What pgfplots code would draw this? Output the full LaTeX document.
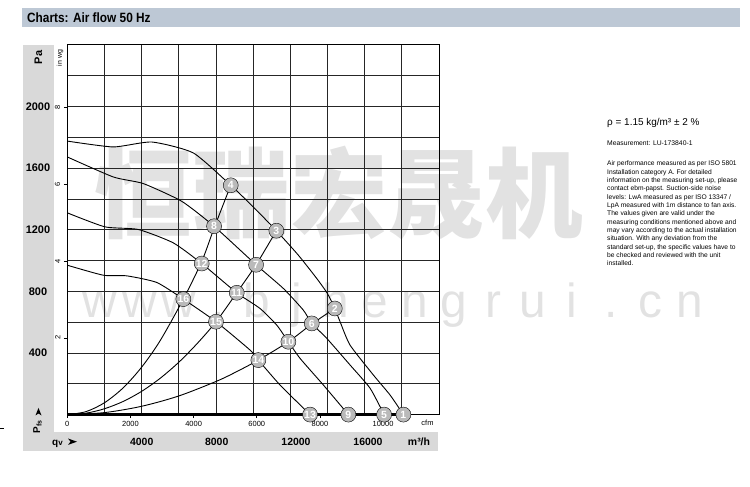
\documentclass[border=0pt]{standalone}
\usepackage{pgfplots}
\pgfplotsset{compat=1.18}
\usepackage{fontspec}
\setmainfont{Liberation Sans}
\newfontfamily\cjk{Noto Sans CJK SC}
\newfontfamily\titlefont[FakeStretch=0.88]{Liberation Sans}
\definecolor{titlebar}{HTML}{BDC8D5}
\definecolor{band}{HTML}{D9D9D9}
\definecolor{circ}{HTML}{BABABA}
\definecolor{wm}{HTML}{E2E2E2}
\begin{document}
\begin{tikzpicture}[x=1bp,y=1bp]
\path[use as bounding box] (0,0) rectangle (750,487);
% title bar
\fill[titlebar] (22,460) rectangle (740,479);
\node[anchor=west, inner sep=0, font=\titlefont\bfseries\fontsize{13.5}{14}\selectfont] at (27,469.5) {Charts: Air flow 50 Hz};
% grey bands
\fill[band] (23,36) rectangle (54,442);
\fill[band] (23,36) rectangle (438,55);
\draw[line width=0.7bp] (0,59) -- (4,59);
% watermark
\node[text=wm, inner sep=0, font=\cjk\bfseries\fontsize{98}{98}\selectfont] at (339,294) {恒瑞宏晟机};
\foreach \c [count=\i from 0] in {w,w,w,.,b,j,h,e,n,g,r,u,i,.,c,n}
  {\node[text=wm, inner sep=0, anchor=base, font=\fontsize{48}{48}\selectfont] at (100+39.3*\i,169) {\c};}
% right-hand text
\node[anchor=base west, inner sep=0, font=\fontsize{10}{12}\selectfont] at (607,361.8) {ρ = 1.15 kg/m³ ± 2 \%};
\node[anchor=base west, inner sep=0, font=\fontsize{6.8}{8}\selectfont] at (607,341.2) {Measurement: LU-173840-1};
\foreach \t [count=\i from 0] in {Air performance measured as per ISO 5801,
 Installation category A. For detailed,
 {information on the measuring set-up, please},
 contact ebm-papst. Suction-side noise,
 levels: LwA measured as per ISO 13347 /,
 LpA measured with 1m distance to fan axis.,
 The values given are valid under the,
 measuring conditions mentioned above and,
 may vary according to the actual installation,
 situation. With any deviation from the,
 {standard set-up, the specific values have to},
 be checked and reviewed with the unit,
 installed.}
 {\node[anchor=base west, inner sep=0, font=\fontsize{6.7}{8}\selectfont] at (607,321.2-8.33*\i) {\t};}
% axis-side labels
\node[rotate=90, inner sep=0, font=\bfseries\fontsize{11}{12}\selectfont] at (38.3,429.5) {Pa};
\node[rotate=90, inner sep=0, font=\fontsize{7}{8}\selectfont] at (60,429) {in wg};
\node[rotate=90, inner sep=0, font=\bfseries\fontsize{10}{12}\selectfont] at (37.5,60.5) {P\textsubscript{fs}};
\fill (38.5,79) -- (41.5,71.5) -- (38.5,73.5) -- (35.5,71.5) -- cycle;
\node[anchor=base west, inner sep=0, font=\bfseries\fontsize{10}{12}\selectfont] at (52,41.5) {q{\fontsize{8}{8}\selectfont v}};
\fill (77,45.3) -- (68,48.5) -- (70.5,45.3) -- (68,42.1) -- cycle;
\foreach \p/\l in {141.7/4000,216.7/8000,296/12000,368/16000}
  {\node[inner sep=0, font=\bfseries\fontsize{10.5}{12}\selectfont] at (\p,45.3) {\l};}
\node[inner sep=0, font=\bfseries\fontsize{10.5}{12}\selectfont] at (419,45.3) {m³/h};
\node[inner sep=0, font=\fontsize{7.5}{8}\selectfont] at (427.5,64) {cfm};
\begin{axis}[
  at={(67.3bp,72.4bp)}, anchor=origin,
  scale only axis, width=371.7bp, height=369.6bp,
  xmin=0, xmax=20000, ymin=0, ymax=2400,
  axis line style={line width=1bp, black},
  xtick={0,3398,6796,10194,13592,16990},
  xticklabels={0,2000,4000,6000,8000,10000},
  scaled x ticks=false, scaled y ticks=false,
  ytick={498.2,996.4,1494.5,1992.7},
  yticklabels={2,4,6,8},
  xtick pos=bottom, ytick pos=left,
  tick align=outside, major tick length=3.5bp, minor tick length=0pt,
  minor xtick={2000,4000,...,18000},
  minor ytick={200,400,...,2200},
  grid=minor, minor grid style={black!85, line width=0.9bp},
  tick style={black, line width=0.7bp},
  tick label style={font=\fontsize{7.5}{8}\selectfont},
  yticklabel style={rotate=90, anchor=south},
  clip=false,
]
% Pa labels
\foreach \v in {400,800,1200,1600,2000}
  {\edef\tmp{\noexpand\node[inner sep=0, font=\noexpand\bfseries\noexpand\fontsize{11}{12}\noexpand\selectfont] at (axis cs:0,\v) [xshift=-29.3bp] {\v};}\tmp}
% fan curves
\addplot[black, line width=0.9bp, smooth, tension=0.35] coordinates {
(0,1776) (2476,1738) (4542,1770) (6781,1699) (8794,1489) (10011,1348) (11249,1194)
(12433,1035) (13421,884) (13993,787) (14392,689) (14677,603) (15215,451) (16469,257) (17368,127) (18084,0)};
\addplot[black, line width=0.9bp, smooth, tension=0.35] coordinates {
(0,1673) (2476,1543) (4090,1500) (6157,1385) (7896,1223) (10156,973) (11625,819)
(12702,678) (13154,592) (13961,495) (15215,322) (16292,171) (17045,0)};
\addplot[black, line width=0.9bp, smooth, tension=0.35] coordinates {
(0,1310) (2029,1219) (3821,1202) (5705,1115) (7234,981) (9117,791) (10371,689)
(11270,581) (11894,473) (12524,365) (13778,192) (15124,0)};
\addplot[black, line width=0.9bp, smooth, tension=0.35] coordinates {
(0,970) (1938,905) (3197,901) (4812,858) (6243,750) (8003,603) (9833,419)
(10280,354) (11448,192) (13062,0)};
% system curves
\addplot[black, line width=0.9bp, smooth] coordinates {
(0,0) (1000,19) (2000,77) (3000,173) (4000,308) (5000,481) (6243,750) (7234,995) (7896,1210) (8794,1489)};
\addplot[black, line width=0.9bp, smooth] coordinates {
(0,0) (1000,9) (2000,38) (3000,85) (4000,151) (5000,236) (6000,340) (7000,463) (8003,603) (9117,791) (10156,973) (11249,1194)};
\addplot[black, line width=0.9bp, smooth] coordinates {
(0,0) (2000,13) (4000,54) (6000,121) (8000,215) (9000,272) (10280,354) (11894,473) (13154,588) (14392,689)};
\addplot[black, line width=2.2bp] coordinates {(0,0) (18084,0)};
% operating points
\addplot[only marks, mark=*, mark size=7.5bp, mark options={fill=circ, draw=none},
  nodes near coords, point meta=explicit symbolic, nodes near coords align=center,
  every node near coord/.append style={anchor=center, inner sep=0, text=white, font=\bfseries\fontsize{10.5}{10.5}\selectfont}]
  table[meta=lab] {
x y lab
18084 0 1
14392 689 2
11249 1194 3
8794 1489 4
17045 0 5
13154 592 6
10156 973 7
7896 1223 8
15124 0 9
11894 473 10
9117 791 11
7234 981 12
13062 0 13
10280 354 14
8003 603 15
6243 750 16
};
\end{axis}
\end{tikzpicture}
\end{document}
